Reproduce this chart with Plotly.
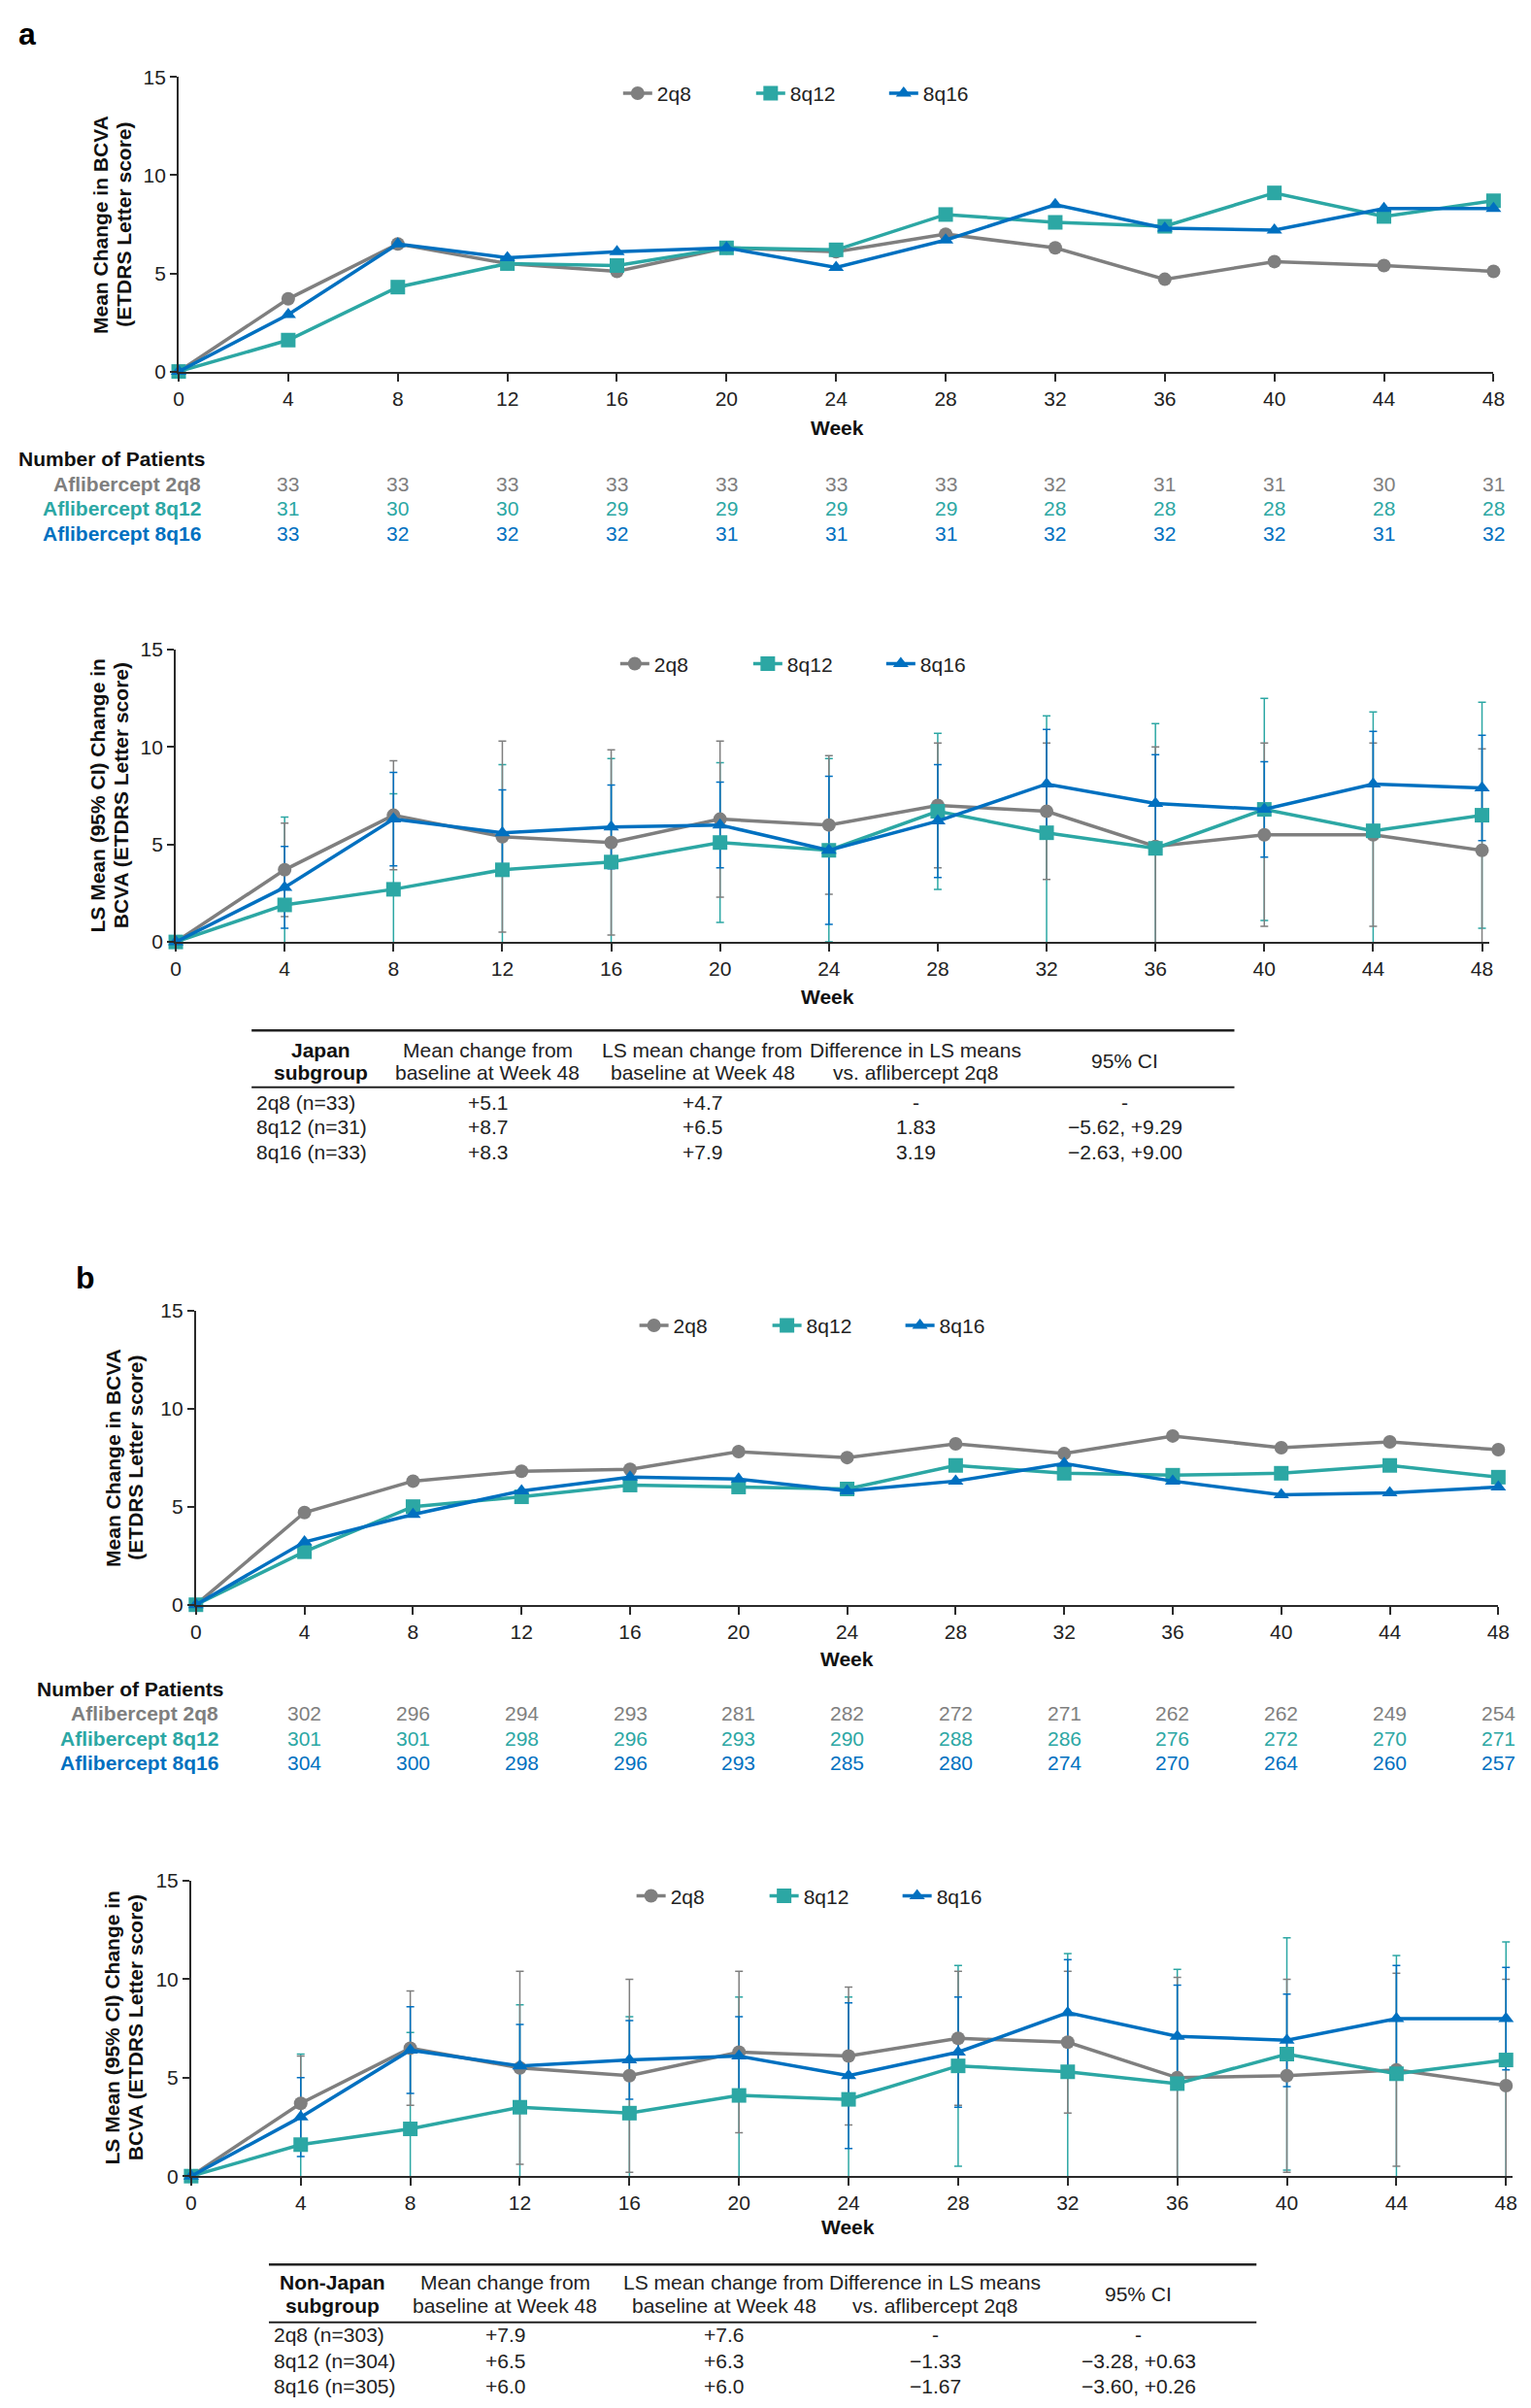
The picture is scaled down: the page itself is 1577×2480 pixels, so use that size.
import plotly.graph_objects as go

W, H = 1577, 2480

# ---------------- data ----------------
weeks = [0, 4, 8, 12, 16, 20, 24, 28, 32, 36, 40, 44, 48]
count_weeks = weeks[1:]

series_names = ['2q8', '8q12', '8q16']
row_labels = ['Aflibercept 2q8', 'Aflibercept 8q12', 'Aflibercept 8q16']

# a: Japan subgroup, mean change
a_mean_2q8 = [0, 3.7, 6.5, 5.5, 5.1, 6.3, 6.1, 7.0, 6.3, 4.7, 5.6, 5.4, 5.1]
a_mean_8q12 = [0, 1.6, 4.3, 5.5, 5.4, 6.3, 6.2, 8.0, 7.6, 7.4, 9.1, 7.9, 8.7]
a_mean_8q16 = [0, 2.9, 6.5, 5.8, 6.1, 6.3, 5.3, 6.7, 8.5, 7.3, 7.2, 8.3, 8.3]

# a: LS mean and 95% CI half-width
a_ls_2q8 = [0, 3.7, 6.5, 5.4, 5.1, 6.3, 6.0, 7.0, 6.7, 4.9, 5.5, 5.5, 4.7]
a_ci_2q8 = [0, 2.4, 2.8, 4.9, 4.75, 4.0, 3.55, 3.2, 3.5, 5.1, 4.7, 4.7, 5.2]
a_ls_8q12 = [0, 1.9, 2.7, 3.7, 4.1, 5.1, 4.7, 6.7, 5.6, 4.8, 6.8, 5.7, 6.5]
a_ci_8q12 = [0, 4.5, 4.9, 5.4, 5.3, 4.1, 4.7, 4.0, 6.0, 6.4, 5.7, 6.1, 5.8]
a_ls_8q16 = [0, 2.8, 6.3, 5.6, 5.9, 6.0, 4.7, 6.2, 8.1, 7.1, 6.8, 8.1, 7.9]
a_ci_8q16 = [0, 2.1, 2.4, 2.2, 2.15, 2.2, 3.8, 2.9, 2.8, 2.5, 2.45, 2.7, 2.7]

a_n_2q8 = [33, 33, 33, 33, 33, 33, 33, 32, 31, 31, 30, 31]
a_n_8q12 = [31, 30, 30, 29, 29, 29, 29, 28, 28, 28, 28, 28]
a_n_8q16 = [33, 32, 32, 32, 31, 31, 31, 32, 32, 32, 31, 32]

# b: Non-Japan subgroup, mean change
b_mean_2q8 = [0, 4.7, 6.3, 6.8, 6.9, 7.8, 7.5, 8.2, 7.7, 8.6, 8.0, 8.3, 7.9]
b_mean_8q12 = [0, 2.7, 5.0, 5.5, 6.1, 6.0, 5.9, 7.1, 6.7, 6.6, 6.7, 7.1, 6.5]
b_mean_8q16 = [0, 3.2, 4.6, 5.8, 6.5, 6.4, 5.8, 6.3, 7.2, 6.3, 5.6, 5.7, 6.0]

b_ls_2q8 = [0, 3.7, 6.5, 5.5, 5.1, 6.3, 6.1, 7.0, 6.8, 5.0, 5.1, 5.4, 4.6]
b_ci_2q8 = [0, 2.4, 2.9, 4.9, 4.9, 4.1, 3.5, 3.4, 3.6, 5.1, 4.9, 4.9, 5.4]
b_ls_8q12 = [0, 1.6, 2.4, 3.5, 3.2, 4.1, 3.9, 5.6, 5.3, 4.7, 6.2, 5.2, 5.9]
b_ci_8q12 = [0, 4.6, 4.9, 5.2, 4.9, 5.0, 5.2, 5.1, 6.0, 5.8, 5.9, 6.0, 6.0]
b_ls_8q16 = [0, 3.0, 6.4, 5.6, 5.9, 6.1, 5.1, 6.3, 8.3, 7.1, 6.9, 8.0, 8.0]
b_ci_8q16 = [0, 2.0, 2.2, 2.1, 2.0, 2.0, 3.7, 2.8, 2.7, 2.6, 2.35, 2.7, 2.6]

b_n_2q8 = [302, 296, 294, 293, 281, 282, 272, 271, 262, 262, 249, 254]
b_n_8q12 = [301, 301, 298, 296, 293, 290, 288, 286, 276, 272, 270, 271]
b_n_8q16 = [304, 300, 298, 296, 293, 285, 280, 274, 270, 264, 260, 257]

# tables
table_header_top = ['Mean change from', 'LS mean change from', 'Difference in LS means']
table_header_bottom = ['baseline at Week 48', 'baseline at Week 48', 'vs. aflibercept 2q8']
table_a_title = ['Japan', 'subgroup']
table_a_rows = [
    ['2q8 (n=33)', '+5.1', '+4.7', '-', '-'],
    ['8q12 (n=31)', '+8.7', '+6.5', '1.83', '\u22125.62, +9.29'],
    ['8q16 (n=33)', '+8.3', '+7.9', '3.19', '\u22122.63, +9.00'],
]
table_b_title = ['Non-Japan', 'subgroup']
table_b_rows = [
    ['2q8 (n=303)', '+7.9', '+7.6', '-', '-'],
    ['8q12 (n=304)', '+6.5', '+6.3', '\u22121.33', '\u22123.28, +0.63'],
    ['8q16 (n=305)', '+6.0', '+6.0', '\u22121.67', '\u22123.60, +0.26'],
]

# ---------------- styling ----------------
COLORS = ['#7f7f7f', '#2ca7a4', '#0070c0']
SYMBOLS = ['circle', 'square', 'triangle-up']
SIZES = [14, 15, 14]
FONT = 'Liberation Sans, Arial, sans-serif'
FS = 21
AXIS_COLOR = '#2a2a2a'


def px(x):
    return x / W


def py(y):
    return 1 - y / H


fig = go.Figure()

panels = [
    # (axis suffix, legend, series values, ci values)
    ('', 'legend', [a_mean_2q8, a_mean_8q12, a_mean_8q16], None),
    ('2', 'legend2', [a_ls_2q8, a_ls_8q12, a_ls_8q16], [a_ci_2q8, a_ci_8q12, a_ci_8q16]),
    ('3', 'legend3', [b_mean_2q8, b_mean_8q12, b_mean_8q16], None),
    ('4', 'legend4', [b_ls_2q8, b_ls_8q12, b_ls_8q16], [b_ci_2q8, b_ci_8q12, b_ci_8q16]),
]

for suffix, legend, values, cis in panels:
    xa, ya = 'x' + suffix, 'y' + suffix
    # error bars first, so lines sit on top; these stay clipped at the axes
    if cis is not None:
        for i in [1, 0, 2]:
            fig.add_trace(go.Scatter(
                x=weeks, y=values[i], xaxis=xa, yaxis=ya,
                mode='markers', marker=dict(size=2, opacity=0),
                error_y=dict(type='data', array=cis[i], color=COLORS[i],
                             thickness=1.5, width=4),
                showlegend=False, hoverinfo='skip',
            ))
    for i in range(3):
        fig.add_trace(go.Scatter(
            x=weeks, y=values[i], xaxis=xa, yaxis=ya,
            mode='lines+markers', name=series_names[i], legend=legend,
            line=dict(color=COLORS[i], width=3.5),
            marker=dict(color=COLORS[i], symbol=SYMBOLS[i], size=SIZES[i]),
            cliponaxis=False,
        ))

# axes: (x0 px, x48 px, xmax, y15 px, y0 px)
axes_px = [
    (172, 1542, 48.0, 60, 366),
    (169, 1530, 48.25, 655, 959),
    (190, 1547, 48.0, 1342, 1648),
    (185, 1555, 48.25, 1935, 2242),
]

layout_axes = {}
for k, (x0, x48, xmax, y15, y0) in enumerate(axes_px):
    s = '' if k == 0 else str(k + 1)
    per_week = (x48 - x0) / 48
    layout_axes['xaxis' + s] = dict(
        domain=[px(x0), px(x0 + per_week * xmax)], range=[0, xmax],
        anchor='y' + s, tickmode='array', tickvals=weeks,
        ticks='outside', ticklen=8, tickwidth=1.5, tickcolor=AXIS_COLOR,
        showline=True, linecolor=AXIS_COLOR, linewidth=1.8,
        showgrid=False, zeroline=False,
        tickfont=dict(family=FONT, size=FS, color='#222222'),
    )
    layout_axes['yaxis' + s] = dict(
        domain=[py(y0), py(y15)], range=[0, 15],
        anchor='x' + s, tickvals=[0, 5, 10, 15],
        ticks='outside', ticklen=7, tickwidth=1.5, tickcolor=AXIS_COLOR,
        showline=True, linecolor=AXIS_COLOR, linewidth=1.8,
        showgrid=False, zeroline=False,
        tickfont=dict(family=FONT, size=FS, color='#222222'),
    )

legend_pos = [(630, 77), (627, 670), (647, 1358), (644, 1951)]
for k, (lx, ly) in enumerate(legend_pos):
    name = 'legend' if k == 0 else 'legend%d' % (k + 1)
    layout_axes[name] = dict(
        x=px(lx), y=py(ly), xanchor='left', yanchor='middle',
        orientation='h', bgcolor='rgba(0,0,0,0)',
        font=dict(family=FONT, size=FS, color='#222222'),
        entrywidth=92, entrywidthmode='pixels',
        traceorder='normal',
    )

annotations = []


def text(x, y, t, size=FS, color='#222222', xanchor='center', angle=0, xref='paper'):
    annotations.append(dict(
        x=x if xref != 'paper' else px(x), y=py(y), xref=xref, yref='paper',
        text=t, showarrow=False, xanchor=xanchor, yanchor='middle',
        textangle=angle, font=dict(family=FONT, size=size, color=color),
    ))


# panel letters
text(3, 15, '<b>a</b>', size=32, color='#000000', xanchor='left')
text(63, 1308, '<b>b</b>', size=32, color='#000000', xanchor='left')

# y axis titles (two rotated lines each)
ytitles = [
    (102, 213, 'Mean Change in BCVA', '(ETDRS Letter score)'),
    (100, 807, 'LS Mean (95% CI) Change in', 'BCVA (ETDRS Letter score)'),
    (115, 1495, 'Mean Change in BCVA', '(ETDRS Letter score)'),
    (115, 2088, 'LS Mean (95% CI) Change in', 'BCVA (ETDRS Letter score)'),
]
for cx, cy, l1, l2 in ytitles:
    text(cx - 12, cy, '<b>%s</b>' % l1, color='#111111', angle=-90)
    text(cx + 12, cy, '<b>%s</b>' % l2, color='#111111', angle=-90)

# x axis titles
for wx, wy in [(858, 424), (848, 1016), (868, 1704), (869, 2295)]:
    text(wx, wy, '<b>Week</b>', color='#111111')

# number of patients rows
nrows = [
    ('x', 3, 457, 197, [483, 508, 534], [a_n_2q8, a_n_8q12, a_n_8q16]),
    ('x3', 22, 1736, 215, [1761, 1787, 1812], [b_n_2q8, b_n_8q12, b_n_8q16]),
]
for xref, tx, ty, rx, rys, counts in nrows:
    text(tx, ty, '<b>Number of Patients</b>', color='#111111', xanchor='left')
    for i in range(3):
        text(rx, rys[i], '<b>%s</b>' % row_labels[i], color=COLORS[i], xanchor='right')
        for wk, n in zip(count_weeks, counts[i]):
            text(wk, rys[i], str(n), color=COLORS[i], xref=xref)

# summary tables
shapes = []
tables = [
    # left, right, top line, header rows, mid line, data rows, column centres
    (248, 1272, 1051, (1071, 1095), 1110, (1126, 1151, 1177),
     [320, 494, 718, 940, 1158], table_a_title, table_a_rows),
    (266, 1295, 2334, (2352, 2377), 2394, (2407, 2434, 2460),
     [332, 512, 740, 960, 1172], table_b_title, table_b_rows),
]
for left, right, top, hys, mid, rys, cols, title, rows in tables:
    shapes.append(dict(type='line', xref='paper', yref='paper',
                       x0=px(left), x1=px(right), y0=py(top), y1=py(top),
                       line=dict(color='#222222', width=2.5)))
    shapes.append(dict(type='line', xref='paper', yref='paper',
                       x0=px(left), x1=px(right), y0=py(mid), y1=py(mid),
                       line=dict(color='#222222', width=2)))
    text(cols[0], hys[0], '<b>%s</b>' % title[0], color='#111111')
    text(cols[0], hys[1], '<b>%s</b>' % title[1], color='#111111')
    for j in range(3):
        text(cols[j + 1], hys[0], table_header_top[j])
        text(cols[j + 1], hys[1], table_header_bottom[j])
    text(cols[4], (hys[0] + hys[1]) / 2, '95% CI')
    for r, row in enumerate(rows):
        text(left + 3, rys[r], row[0], xanchor='left')
        for j in range(1, 5):
            text(cols[j], rys[r], row[j])

fig.update_layout(
    width=W, height=H, autosize=False,
    margin=dict(l=0, r=0, t=0, b=0),
    paper_bgcolor='white', plot_bgcolor='white',
    font=dict(family=FONT, size=FS, color='#222222'),
    annotations=annotations, shapes=shapes,
    **layout_axes,
)

fig.write_html('out.html')
